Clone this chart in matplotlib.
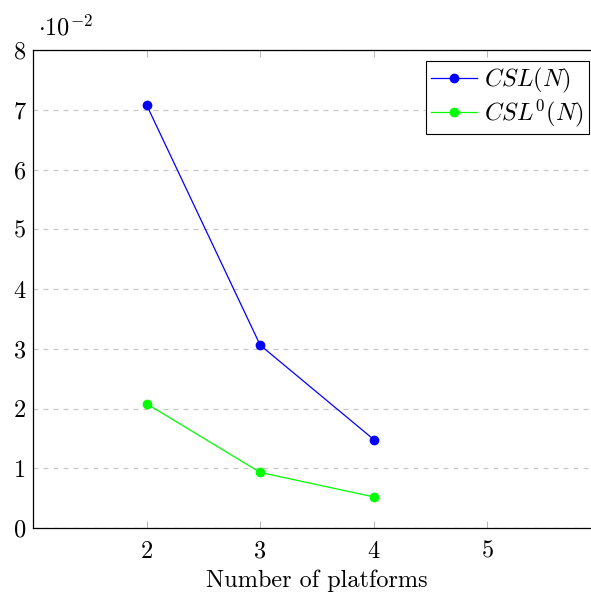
import matplotlib
matplotlib.use("Agg")
import matplotlib.pyplot as plt

# data (values in units of 1e-2)
platforms = [2, 3, 4]
csl = [7.08, 3.06, 1.48]
csl0 = [2.08, 0.93, 0.52]
x_ticks = [2, 3, 4, 5]
y_ticks = [0, 1, 2, 3, 4, 5, 6, 7, 8]

plt.rcParams["font.family"] = "serif"
plt.rcParams["font.serif"] = ["cmr10"]
plt.rcParams["mathtext.fontset"] = "cm"
plt.rcParams["axes.unicode_minus"] = False
plt.rcParams["axes.formatter.use_mathtext"] = True

FS = 17.5

fig = plt.figure(figsize=(5.91, 5.95), dpi=100)
ax = fig.add_axes([33 / 591, 67 / 595, 568 / 591, 478 / 595])

ax.plot(platforms, csl, color="blue", marker="o", markersize=6, linewidth=0.9,
        label=r"$CSL(N)$")
ax.plot(platforms, csl0, color="#00ff00", marker="o", markersize=6, linewidth=0.9,
        label=r"$CSL^0(N)$")

ax.set_xlim(1, 6)
ax.set_ylim(0, 8)
ax.set_xticks(x_ticks)
ax.set_xticklabels([str(t) for t in x_ticks])
ax.set_yticks(y_ticks)
ax.set_yticklabels([str(t) for t in y_ticks])
ax.tick_params(axis="both", labelsize=FS, direction="in", length=5, width=0.6,
               color="#aaaaaa", top=True, right=True, pad=9)
ax.tick_params(axis="y", length=0, pad=5)

ax.yaxis.grid(True, linestyle=(0, (4, 4)), color="#c8c8c8", linewidth=0.9)
ax.set_axisbelow(True)
for s in ax.spines.values():
    s.set_linewidth(0.9)

ax.set_xlabel("Number of platforms", fontsize=FS, labelpad=5)
fig.text(38 / 591, 1 - 28 / 595, r"$\cdot 10^{-2}$", fontsize=FS, va="center", ha="left")

leg = ax.legend(loc="upper right", bbox_to_anchor=(556 / 568, 1 - 11 / 478),
                fontsize=FS, frameon=True, fancybox=False, framealpha=1,
                edgecolor="black", handlelength=1.9, handletextpad=0.3,
                borderpad=0.2, labelspacing=0.1, borderaxespad=0)
leg.get_frame().set_linewidth(0.8)

fig.savefig("out.png", dpi=100)
